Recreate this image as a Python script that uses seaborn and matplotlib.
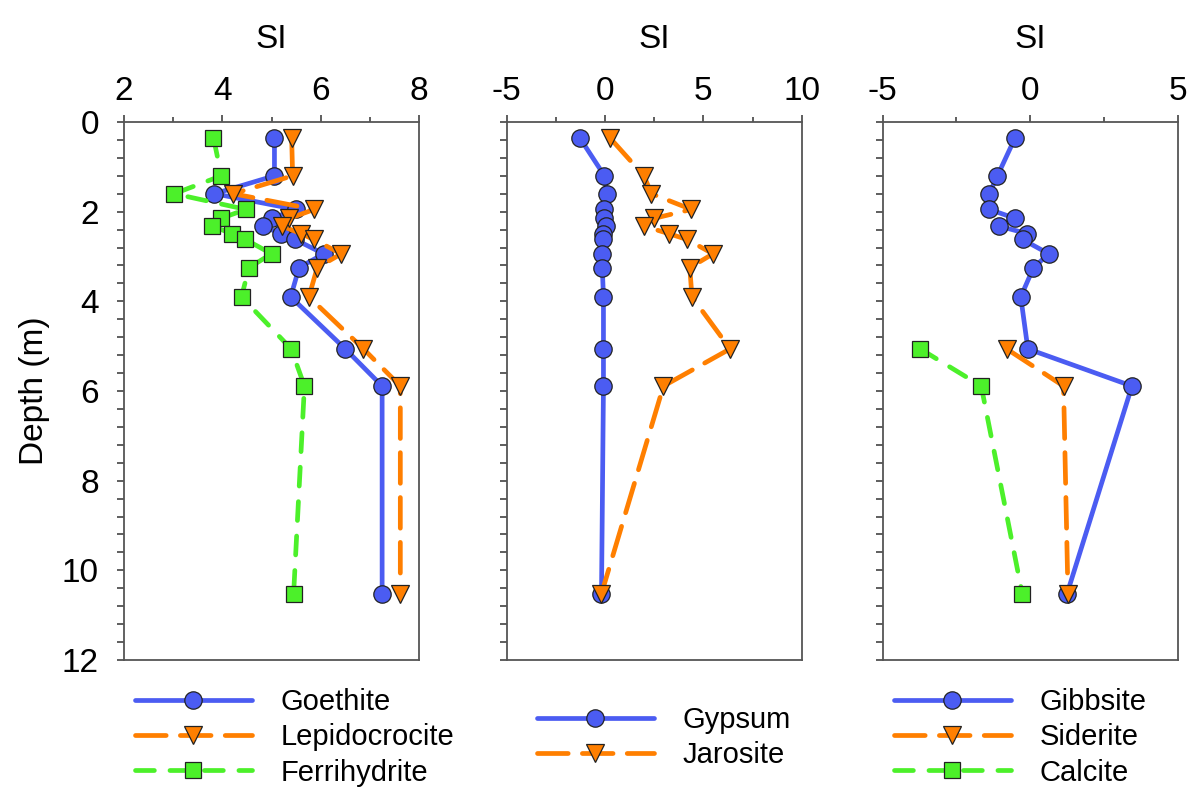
import numpy as np
import pandas as pd
import matplotlib
matplotlib.use("Agg")
import matplotlib.pyplot as plt
from matplotlib.ticker import MultipleLocator
import seaborn as sns

# ---------------- data ----------------
depth = [0.35, 1.2, 1.6, 1.95, 2.15, 2.32, 2.49, 2.62, 2.94, 3.25, 3.9, 5.06, 5.89, 10.52]
depth_short = [5.06, 5.89, 10.52]

goethite = [5.06, 5.06, 3.84, 5.50, 5.00, 4.82, 5.19, 5.48, 6.06, 5.56, 5.39, 6.50, 7.25, 7.25]
lepidocrocite = [5.41, 5.43, 4.22, 5.87, 5.36, 5.21, 5.60, 5.86, 6.42, 5.93, 5.76, 6.87, 7.62, 7.62]
ferrihydrite = [3.82, 3.98, 3.02, 4.48, 3.97, 3.78, 4.20, 4.47, 5.00, 4.54, 4.39, 5.40, 5.67, 5.45]

gypsum = [-1.29, -0.03, 0.09, -0.03, -0.07, 0.07, -0.10, -0.10, -0.14, -0.14, -0.08, -0.08, -0.08, -0.18]
jarosite = [0.24, 1.98, 2.36, 4.39, 2.49, 1.97, 3.24, 4.17, 5.49, 4.31, 4.42, 6.36, 2.97, -0.18]

gibbsite = [-0.51, -1.11, -1.39, -1.38, -0.51, -1.06, -0.11, -0.26, 0.63, 0.11, -0.32, -0.08, 3.45, 1.25]
siderite = [-0.80, 1.13, 1.28]
calcite = [-3.73, -1.66, -0.27]

xlims = [(2, 8), (-5, 10), (-5, 5)]
xmajor = [2, 5, 5]
xminor = [1, 2.5, 2.5]

# ---------------- style ----------------
sns.set_style("ticks")
plt.rcParams["font.family"] = ["Liberation Sans", "DejaVu Sans"]
plt.rcParams["axes.unicode_minus"] = False
plt.rcParams["text.color"] = "black"
plt.rcParams["axes.labelcolor"] = "black"
plt.rcParams["xtick.color"] = "black"
plt.rcParams["ytick.color"] = "black"

BLUE = "#4b5cf2"
ORANGE = "#ff7f00"
GREEN = "#4cf02a"

styles = {
    "blue": dict(color=BLUE, linestyle="-", marker="o", markersize=12.5),
    "orange": dict(color=ORANGE, linestyle=(0, (6.5, 3)), marker="v", markersize=13.5),
    "green": dict(color=GREEN, linestyle=(0, (4, 3.3)), marker="s", markersize=11),
}

panels = [
    [("Goethite", goethite, depth, "blue"),
     ("Lepidocrocite", lepidocrocite, depth, "orange"),
     ("Ferrihydrite", ferrihydrite, depth, "green")],
    [("Gypsum", gypsum, depth, "blue"),
     ("Jarosite", jarosite, depth, "orange")],
    [("Gibbsite", gibbsite, depth, "blue"),
     ("Siderite", siderite, depth_short, "orange"),
     ("Calcite", calcite, depth_short, "green")],
]

W, H = 1193, 794
fig = plt.figure(figsize=(W / 100, H / 100), dpi=100)

ax_lefts = [124, 506.7, 882.7]
ax_w = 295
ax_top, ax_bot = 122, 660
legend_pos = [(135, 688), (537, 706), (894, 688)]

for i, series in enumerate(panels):
    ax = fig.add_axes([ax_lefts[i] / W, 1 - ax_bot / H, ax_w / W, (ax_bot - ax_top) / H])
    for name, xs, ys, key in series:
        st = styles[key]
        df = pd.DataFrame({"SI": xs, "Depth": ys})
        sns.lineplot(data=df, x="SI", y="Depth", ax=ax, sort=False, estimator=None,
                     color=st["color"], linestyle=st["linestyle"], linewidth=3.4,
                     marker=st["marker"], markersize=st["markersize"],
                     markeredgecolor="#222222", markeredgewidth=0.9,
                     dash_capstyle="round", solid_capstyle="round", label=name)
    ax.set_xlim(*xlims[i])
    ax.set_ylim(12, 0)
    ax.xaxis.set_major_locator(MultipleLocator(xmajor[i]))
    ax.xaxis.set_minor_locator(MultipleLocator(xminor[i]))
    ax.yaxis.set_major_locator(MultipleLocator(2))
    ax.yaxis.set_minor_locator(MultipleLocator(0.4))
    ax.xaxis.tick_top()
    ax.xaxis.set_label_position("top")
    ax.set_xlabel("SI", fontsize=24, labelpad=20)
    ax.tick_params(axis="x", which="major", labelsize=24, length=5, width=1.1,
                   color="#333333", pad=6, top=True, bottom=False)
    ax.tick_params(axis="x", which="minor", length=3.5, width=1.1, color="#333333",
                   top=True, bottom=False)
    ax.tick_params(axis="y", which="both", length=5, width=1.1, color="#333333",
                   labelsize=24, pad=13, left=True, right=False)
    if i == 0:
        ax.set_ylabel("Depth (m)", fontsize=24, labelpad=9)
    else:
        ax.set_ylabel("")
        ax.tick_params(axis="y", labelleft=False)
    for sp in ax.spines.values():
        sp.set_color("#555555")
        sp.set_linewidth(1.3)
        sp.set_visible(True)
    lx, ly = legend_pos[i]
    ax.legend(loc="upper left", bbox_to_anchor=(lx / W, 1 - ly / H),
              bbox_transform=fig.transFigure, frameon=False, fontsize=21,
              handlelength=4.0, handletextpad=1.0, labelspacing=0.25,
              borderpad=0, borderaxespad=0, numpoints=1)

fig.savefig("out.png", dpi=100)
